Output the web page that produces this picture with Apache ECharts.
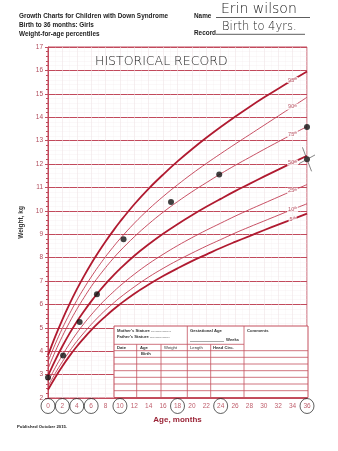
<!DOCTYPE html>
<html><head><meta charset="utf-8">
<script src="https://cdn.jsdelivr.net/npm/echarts@6/dist/echarts.min.js"></script>
<style>html,body{margin:0;padding:0;background:#fff}#c{width:338px;height:451px}</style>
</head><body><div id="c"></div>
<script>
// ---- data ----
const months = [0,1,2,3,4,5,6,7,8,9,10,12,14,16,18,20,22,24,26,28,30,32,34,36];
const p5  = [2.35,2.88,3.36,3.80,4.20,4.56,4.90,5.21,5.49,5.76,6.01,6.46,6.85,7.21,7.54,7.85,8.13,8.41,8.67,8.92,9.17,9.41,9.64,9.88];
const p10 = [2.50,3.05,3.55,4.00,4.42,4.79,5.14,5.46,5.76,6.03,6.29,6.75,7.17,7.54,7.88,8.19,8.49,8.77,9.05,9.31,9.56,9.81,10.06,10.30];
const p25 = [2.70,3.29,3.83,4.32,4.77,5.18,5.55,5.90,6.22,6.51,6.79,7.29,7.74,8.14,8.51,8.85,9.17,9.47,9.77,10.05,10.32,10.59,10.86,11.12];
const p50 = [2.95,3.61,4.21,4.76,5.26,5.71,6.13,6.52,6.88,7.21,7.52,8.08,8.57,9.02,9.43,9.81,10.17,10.51,10.84,11.15,11.46,11.76,12.06,12.35];
const p75 = [3.25,3.98,4.64,5.24,5.79,6.29,6.76,7.18,7.57,7.94,8.28,8.89,9.44,9.94,10.39,10.81,11.20,11.58,11.94,12.28,12.62,12.95,13.28,13.60];
const p90 = [3.55,4.30,4.98,5.60,6.17,6.69,7.17,7.62,8.04,8.43,8.80,9.47,10.07,10.61,11.11,11.58,12.02,12.44,12.85,13.25,13.65,14.05,14.45,14.85];
const p95 = [3.82,4.62,5.35,6.02,6.64,7.21,7.74,8.23,8.69,9.12,9.53,10.28,10.95,11.55,12.11,12.63,13.12,13.58,14.02,14.44,14.84,15.22,15.59,15.95];
const percentileNames = ['5','10','25','50','75','90','95'];
const thickPercentiles = ['5','50','95'];
const ages    = [0, 2.1, 4.4, 6.8, 10.5, 17.1, 23.8, 36];
const weights = [2.88, 3.82, 5.25, 6.43, 8.78, 10.38, 11.55, 13.58];
const crossAge = [36];
const crossWeight = [12.2];
const circledMonths = [0,2,4,6,10,18,24,36];
const labelMonth = 34;

const curves = [p5,p10,p25,p50,p75,p90,p95];
const RED = '#c24a5c', DARK = '#b01a30', THIN = '#c13c52';
const chart = echarts.init(document.getElementById('c'));
const li = months.indexOf(labelMonth);

const series = curves.map((arr,k)=>({
  type:'line', data: months.map((m,i)=>[m,arr[i]]), smooth:0.4, showSymbol:false, symbol:'none',
  lineStyle:{color: thickPercentiles.includes(percentileNames[k])?DARK:THIN,
             width: thickPercentiles.includes(percentileNames[k])?1.8:0.9},
  z:3, silent:true
}));
series.push({
  type:'scatter', symbolSize:0, z:5, silent:true,
  data: curves.map((arr,k)=>({value:[labelMonth, arr[li]], name:percentileNames[k]})),
  label:{show:true, position:'inside', formatter:p=>'{n|'+p.name+'}{s|th}',
    backgroundColor:'#fff', padding:[0,1],
    rich:{n:{fontSize:5.5,color:'#a83042',fontFamily:'Liberation Sans'},
          s:{fontSize:3.5,color:'#a83042',verticalAlign:'top',padding:[0,0,2,0]}}}
});
series.push({
  type:'scatter', symbol:'circle', symbolSize:6, itemStyle:{color:'#111'}, z:6, clip:false,
  data: ages.map((a,i)=>[a,weights[i]])
});
series.push({
  type:'scatter', symbol:'circle', symbolSize:6, itemStyle:{color:'#111'}, z:6, clip:false,
  data: crossAge.map((a,i)=>[a,crossWeight[i]])
});
series.push({
  type:'scatter', symbol:'path://M3,0L11,22M0,15L14,7', symbolSize:[16,24], z:6, clip:false,
  itemStyle:{color:'none',borderColor:'#444',borderWidth:0.8},
  data: crossAge.map((a,i)=>[a,crossWeight[i]])
});
series.push({
  type:'scatter', symbol:'circle', symbolSize:[14,15], symbolOffset:[0,8], z:6, clip:false,
  itemStyle:{color:'rgba(0,0,0,0)',borderColor:'#222',borderWidth:0.9},
  data: circledMonths.map(m=>[m,2])
});

// table overlay (form decoration)
const TL='#c4505e';
const tx=114, ty=326, tw=194, th=71.5;
const g=[];
g.push({type:'rect',shape:{x:tx,y:ty,width:tw,height:th},style:{fill:'#fff',stroke:TL,lineWidth:1},z:10});
const L=(x1,y1,x2,y2,w)=>g.push({type:'line',shape:{x1,y1,x2,y2},style:{stroke:TL,lineWidth:w||0.8},z:11});
L(187.3,ty,187.3,ty+th); L(244,ty,244,ty+th);
L(tx,344.3,244,344.3);
[350.7,357.3,364,370.7,377.3,384,390.7].forEach(y=>L(tx,y,tx+tw,y));
[136.7,161,210.7].forEach(x=>L(x,344.3,x,ty+th));
const T=(x,y,t,fs,opt)=>g.push({type:'text',x,y,z:12,style:Object.assign({text:t,fontSize:fs,fill:'#333',fontFamily:'Liberation Sans',fontWeight:'bold',verticalAlign:'middle'},opt||{})});
T(117,330.7,"Mother's Stature .................",4.2);
T(117,337.3,"Father's Stature .................",4.2);
T(190,330.7,"Gestational Age",4.2);
g.push({type:'line',shape:{x1:190,y1:341.5,x2:224,y2:341.5},style:{stroke:'#555',lineWidth:0.5},z:12});
T(226,340.2,"Weeks",4.2);
T(247,330.7,"Comments",4.2);
T(117,347.6,"Date",4.2); T(140,347.6,"Age",4.2); T(164,347.6,"Weight",4.2,{fontWeight:'normal'});
T(190,347.6,"Length",4.2,{fontWeight:'normal'}); T(213,347.6,"Head Circ.",4.2);
T(141,353.8,"Birth",4.2);
// header texts
const H=(x,y,t,fs,opt)=>g.push({type:'text',x,y,z:12,style:Object.assign({text:t,fontSize:fs,fill:'#222',fontFamily:'Liberation Sans Narrow, Liberation Sans',fontWeight:'bold',verticalAlign:'middle'},opt||{})});
H(19,16.7,'Growth Charts for Children with Down Syndrome',6.4);
H(19,25.2,'Birth to 36 months: Girls',6.4);
H(19,33.8,'Weight-for-age percentiles',6.4);
H(194,16,'Name',6.4);
H(194,33,'Record',6.4);
g.push({type:'line',shape:{x1:216,y1:17.5,x2:310,y2:17.5},style:{stroke:'#333',lineWidth:0.8},z:12});
g.push({type:'line',shape:{x1:216,y1:34.3,x2:305,y2:34.3},style:{stroke:'#333',lineWidth:0.8},z:12});
H(221,9.5,'Erin wilson',14,{fontWeight:200,fontFamily:'DejaVu Sans',fill:'#222'});
H(222,27,'Birth to 4yrs.',11.5,{fontWeight:200,fontFamily:'DejaVu Sans',fill:'#222'});
H(95,62,'HISTORICAL RECORD',12.5,{fontWeight:200,fontFamily:'DejaVu Sans',fill:'#222'});
H(17,427,'Published October 2015.',4.3);

chart.setOption({
  animation:false,
  backgroundColor:'#fff',
  grid:{left:48,right:31,top:47,bottom:53,show:true,borderColor:RED,borderWidth:1,backgroundColor:'rgba(0,0,0,0)'},
  xAxis:{type:'value',min:0,max:36,interval:2,
    name:'Age, months',nameLocation:'middle',nameGap:18,
    nameTextStyle:{color:'#9a2336',fontWeight:'bold',fontSize:8,fontFamily:'Liberation Sans'},
    axisLine:{show:true,lineStyle:{color:RED}},axisTick:{show:false},
    axisLabel:{color:'#c0606e',fontSize:6.5,margin:5,fontFamily:'Liberation Sans'},
    splitLine:{show:true,lineStyle:{color:'#f0e4e6',width:0.6}},
    minorTick:{show:false,splitNumber:2},
    minorSplitLine:{show:true,lineStyle:{color:'#f3eaeb',width:0.5,type:'dotted'}}},
  yAxis:{type:'value',min:2,max:17,interval:1,
    name:'Weight, kg',nameLocation:'middle',nameGap:15,nameRotate:90,
    nameTextStyle:{color:'#333',fontWeight:'bold',fontSize:6.5,fontFamily:'Liberation Sans'},
    axisLine:{show:true,lineStyle:{color:RED,width:1}},
    axisTick:{show:true,length:3,lineStyle:{color:RED}},
    minorTick:{show:true,splitNumber:5,length:2,lineStyle:{color:RED}},
    axisLabel:{color:'#b04a5a',fontSize:6.5,margin:5,fontFamily:'Liberation Sans'},
    splitLine:{show:true,lineStyle:{color:RED,width:1.1}},
    minorSplitLine:{show:true,lineStyle:{color:'#efe2e4',width:0.5,type:'dotted'}}},
  series,
  graphic:g
});
</script></body></html>
